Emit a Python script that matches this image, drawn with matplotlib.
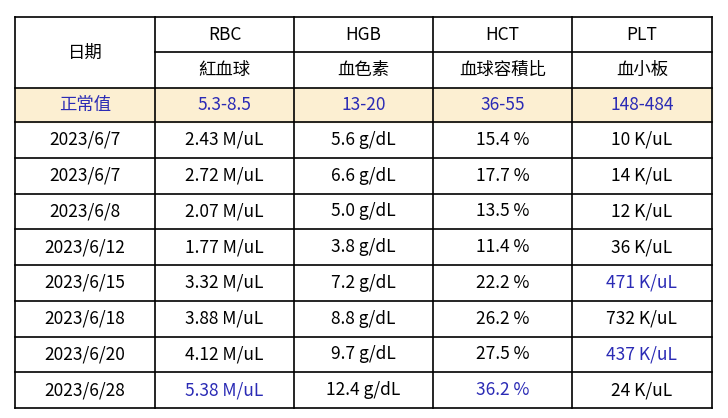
import matplotlib
matplotlib.use("Agg")
import matplotlib.pyplot as plt

plt.rcParams['font.family'] = ['Noto Sans CJK TC', 'DejaVu Sans']

header_en = ["RBC", "HGB", "HCT", "PLT"]
header_zh = ["紅血球", "血色素", "血球容積比", "血小板"]
normal = ["5.3-8.5", "13-20", "36-55", "148-484"]
dates = ["2023/6/7", "2023/6/7", "2023/6/8", "2023/6/12", "2023/6/15", "2023/6/18", "2023/6/20", "2023/6/28"]
rbc = ["2.43 M/uL", "2.72 M/uL", "2.07 M/uL", "1.77 M/uL", "3.32 M/uL", "3.88 M/uL", "4.12 M/uL", "5.38 M/uL"]
hgb = ["5.6 g/dL", "6.6 g/dL", "5.0 g/dL", "3.8 g/dL", "7.2 g/dL", "8.8 g/dL", "9.7 g/dL", "12.4 g/dL"]
hct = ["15.4 %", "17.7 %", "13.5 %", "11.4 %", "22.2 %", "26.2 %", "27.5 %", "36.2 %"]
plt_v = ["10 K/uL", "14 K/uL", "12 K/uL", "36 K/uL", "471 K/uL", "732 K/uL", "437 K/uL", "24 K/uL"]
# cells (row, col) highlighted in blue
blue_cells = [(7, 1), (7, 3), (4, 4), (6, 4)]

BLUE = "#2b2bb5"
fig = plt.figure(figsize=(7.28, 4.18), dpi=100)
ax = fig.add_axes([0, 0, 1, 1])
ax.set_xlim(0, 728); ax.set_ylim(418, 0); ax.axis('off')

xs = [15, 155, 294, 433, 572, 712]
y0, y1, y2, y3 = 17, 52, 88, 122
yb = 408
rh = (yb - y3) / len(dates)
fs = 12.5
lw = 1.2

ax.add_patch(plt.Rectangle((xs[0], y2), xs[-1] - xs[0], y3 - y2, color="#fcefd2", zorder=0))
# lines
for x in xs:
    ax.plot([x, x], [y0, yb], color='black', lw=lw)
ax.plot([xs[0], xs[-1]], [y0, y0], color='black', lw=lw)
ax.plot([xs[1], xs[-1]], [y1, y1], color='black', lw=lw)
for i in range(len(dates) + 2):
    y = y2 + i * (y3 - y2) if i < 2 else y3 + (i - 1) * rh
    ax.plot([xs[0], xs[-1]], [y, y], color='black', lw=lw)

cx = [(xs[i] + xs[i + 1]) / 2 for i in range(5)]
ax.text(cx[0], (y0 + y2) / 2, "日期", ha='center', va='center', fontsize=fs)
for j in range(4):
    ax.text(cx[j + 1], (y0 + y1) / 2, header_en[j], ha='center', va='center', fontsize=fs)
    ax.text(cx[j + 1], (y1 + y2) / 2, header_zh[j], ha='center', va='center', fontsize=fs)
    ax.text(cx[j + 1], (y2 + y3) / 2, normal[j], ha='center', va='center', fontsize=fs, color=BLUE)
ax.text(cx[0], (y2 + y3) / 2, "正常值", ha='center', va='center', fontsize=fs, color=BLUE)

cols = [dates, rbc, hgb, hct, plt_v]
for r in range(len(dates)):
    yc = y3 + (r + 0.5) * rh
    for c in range(5):
        col = BLUE if (r, c) in blue_cells else 'black'
        ax.text(cx[c], yc, cols[c][r], ha='center', va='center', fontsize=fs, color=col)

fig.savefig("out.png", dpi=100, facecolor='white')
